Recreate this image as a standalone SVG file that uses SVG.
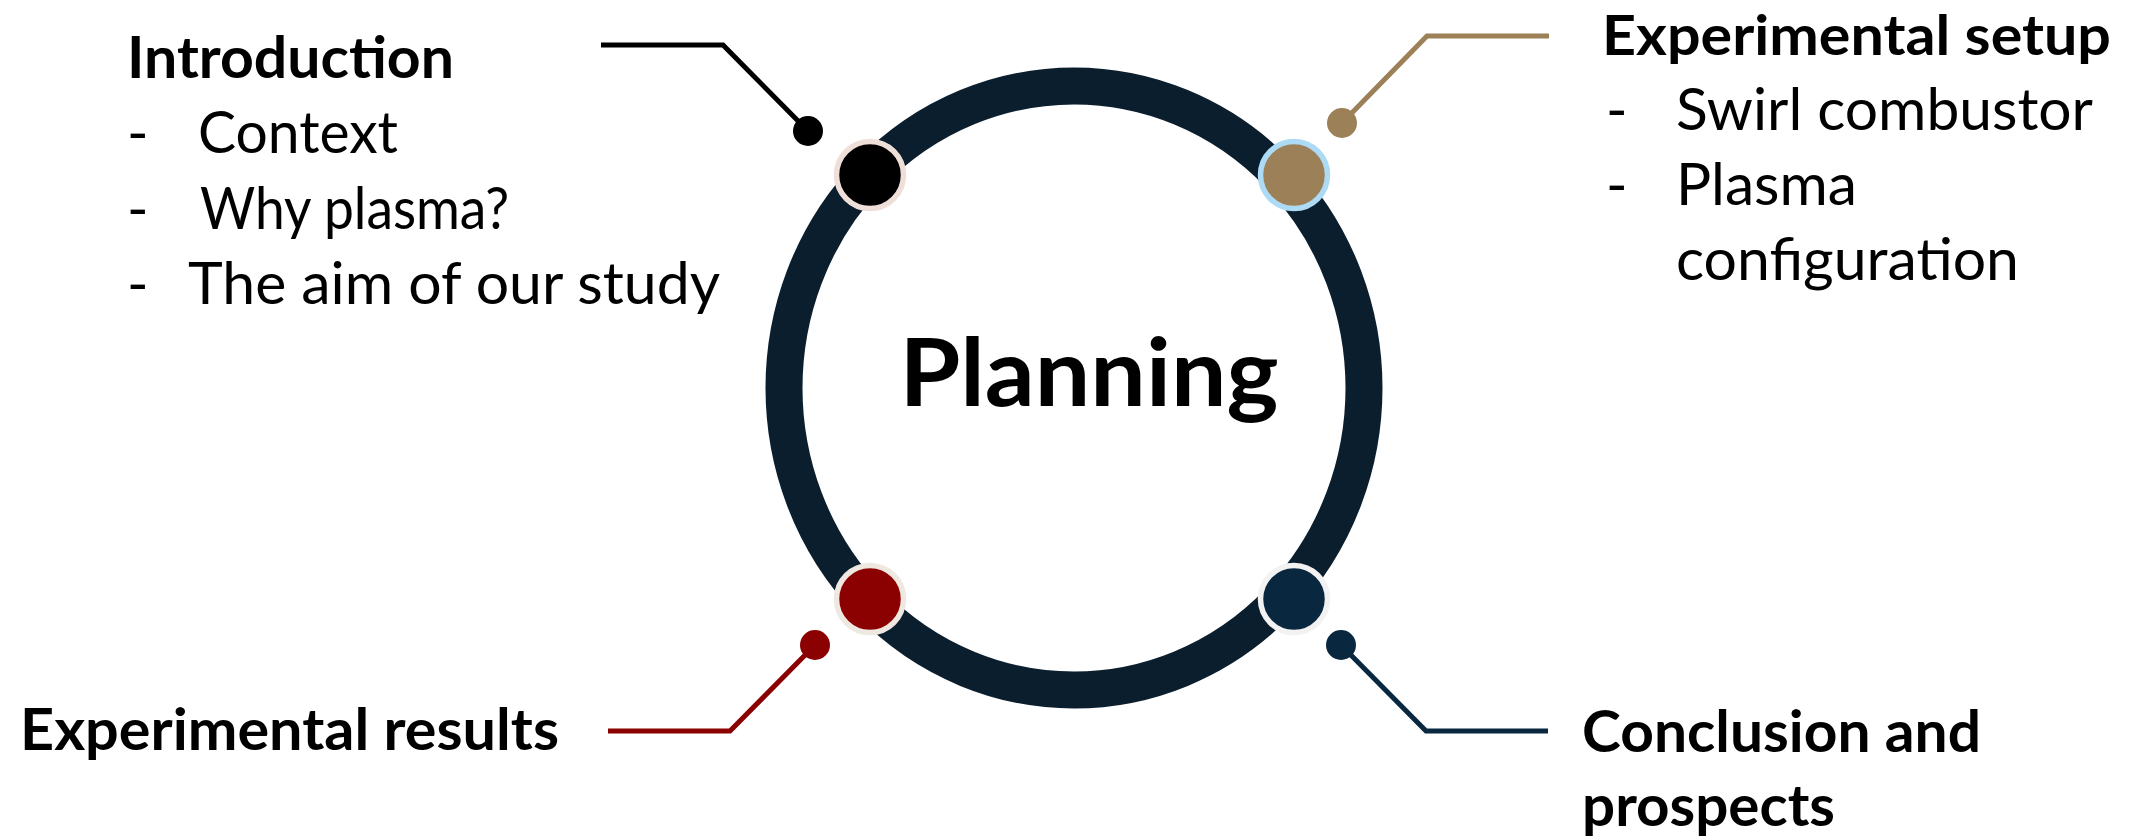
<svg xmlns="http://www.w3.org/2000/svg" width="2138" height="839" viewBox="0 0 2138 839">
<style>
.t{font-family:Lato,"Open Sans","Liberation Sans",sans-serif;font-size:58px;fill:#000}
.b{font-weight:bold}
.big-t{font-size:94px}
.ln{fill:none;stroke-width:5;stroke-linejoin:miter}
.big{stroke-width:5.5}
</style>
<rect width="2138" height="839" fill="#fff"/>
<g id="ring">
<ellipse cx="1074" cy="388" rx="290" ry="302" fill="none" stroke="#0A1E2E" stroke-width="37"/>
<text class="t b big-t" x="1089" y="406" text-anchor="middle" textLength="379" lengthAdjust="spacingAndGlyphs">Planning</text>
</g>
<g id="connectors">
<path class="ln" stroke="#000" d="M601,45 H723 L808,131"/>
<path class="ln" stroke="#9C8158" d="M1342,123 L1427,36 H1549"/>
<path class="ln" stroke="#8B0000" d="M815,645 L730,731 H608"/>
<path class="ln" stroke="#0A2740" d="M1341,645 L1426,731 H1548"/>
</g>
<g id="introduction">
<circle class="big" cx="870" cy="175" r="33.5" fill="#000" stroke="#EEE0D9"/>
<circle cx="808" cy="131" r="15" fill="#000"/>
<text class="t b" x="127" y="78" textLength="327" lengthAdjust="spacingAndGlyphs">Introduction</text>
<text class="t" x="127" y="153">-</text>
<text class="t" x="198" y="153" textLength="200" lengthAdjust="spacingAndGlyphs">Context</text>
<text class="t" x="127" y="229">-</text>
<text class="t" x="200" y="229" textLength="309" lengthAdjust="spacingAndGlyphs">Why plasma?</text>
<text class="t" x="127" y="304">-</text>
<text class="t" x="188" y="304" textLength="532" lengthAdjust="spacingAndGlyphs">The aim of our study</text>
</g>
<g id="experimental-setup">
<circle class="big" cx="1294" cy="175" r="33.5" fill="#9C8158" stroke="#ADDAF5"/>
<circle cx="1342" cy="123" r="15" fill="#9C8158"/>
<text class="t b" x="1602" y="55" style="font-size:56px" textLength="509" lengthAdjust="spacingAndGlyphs">Experimental setup</text>
<text class="t" x="1606" y="130">-</text>
<text class="t" x="1676" y="130" textLength="417" lengthAdjust="spacingAndGlyphs">Swirl combustor</text>
<text class="t" x="1606" y="205">-</text>
<text class="t" x="1676" y="205" textLength="181" lengthAdjust="spacingAndGlyphs">Plasma</text>
<text class="t" x="1676" y="280" textLength="343" lengthAdjust="spacingAndGlyphs">configuration</text>
</g>
<g id="experimental-results">
<circle class="big" cx="870" cy="599" r="33.5" fill="#8B0000" stroke="#EEE8E0"/>
<circle cx="815" cy="645" r="15" fill="#8B0000"/>
<text class="t b" x="20" y="750" textLength="539" lengthAdjust="spacingAndGlyphs">Experimental results</text>
</g>
<g id="conclusion">
<circle class="big" cx="1294" cy="599" r="33.5" fill="#0A2740" stroke="#F2F2F2"/>
<circle cx="1341" cy="645" r="15" fill="#0A2740"/>
<text class="t b" x="1582" y="752" textLength="399" lengthAdjust="spacingAndGlyphs">Conclusion and</text>
<text class="t b" x="1582" y="826" textLength="253" lengthAdjust="spacingAndGlyphs">prospects</text>
</g>
</svg>
